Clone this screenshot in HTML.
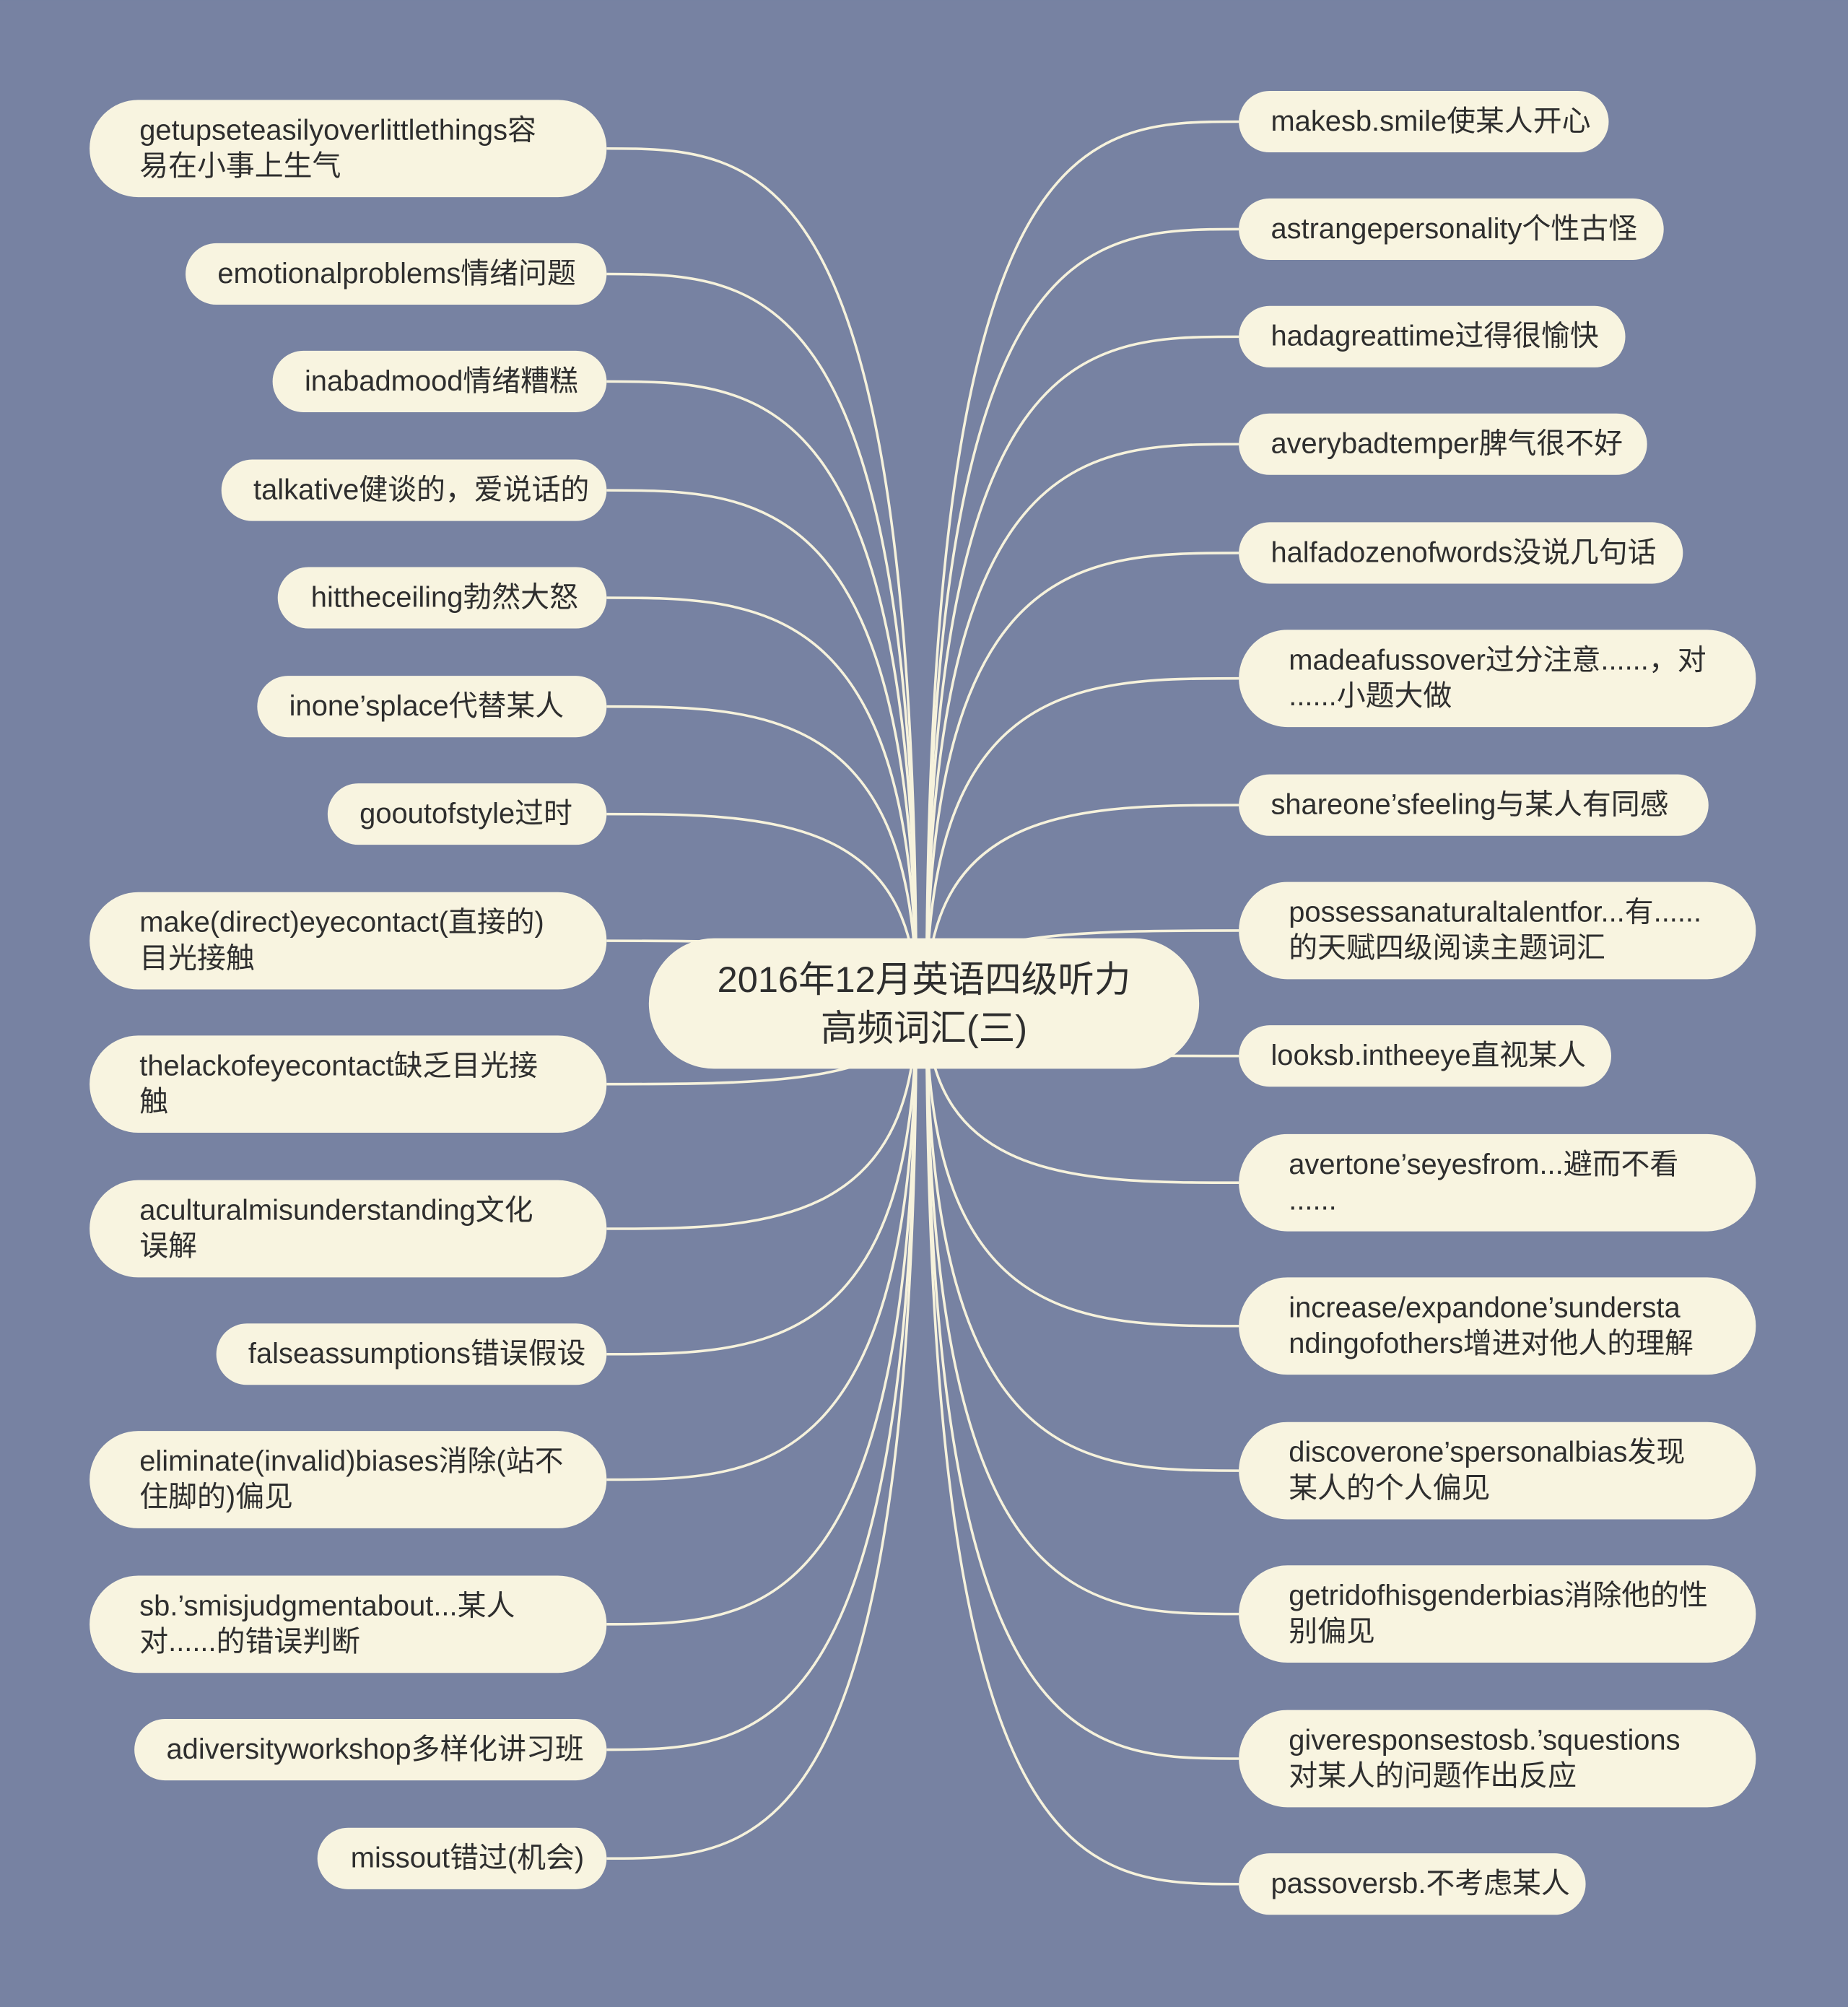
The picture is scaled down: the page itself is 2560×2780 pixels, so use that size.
<!DOCTYPE html>
<html><head><meta charset="utf-8"><style>
html,body{margin:0;padding:0;background:#7782a2;}
svg{display:block}
text{font-family:"Liberation Sans","Noto Sans CJK SC",sans-serif;fill:#2e2e2e;font-size:22.5px}
</style></head><body>
<svg width="2560" height="2780" viewBox="0 0 1444 1568" xmlns="http://www.w3.org/2000/svg">
<rect width="1444" height="1568" fill="#7782a2"/>
<g fill="none" stroke="#f6f2dc" stroke-width="2">
<path d="M716 784 C716 116 595 116 474 116"/>
<path d="M716 784 C716 214 595 214 474 214"/>
<path d="M716 784 C716 298 595 298 474 298"/>
<path d="M716 784 C716 383 595 383 474 383"/>
<path d="M716 784 C716 467 595 467 474 467"/>
<path d="M716 784 C716 552 595 552 474 552"/>
<path d="M716 784 C716 636 595 636 474 636"/>
<path d="M716 784 C716 735 595 735 474 735"/>
<path d="M716 784 C716 847 595 847 474 847"/>
<path d="M716 784 C716 960 595 960 474 960"/>
<path d="M716 784 C716 1058 595 1058 474 1058"/>
<path d="M716 784 C716 1156 595 1156 474 1156"/>
<path d="M716 784 C716 1269 595 1269 474 1269"/>
<path d="M716 784 C716 1367 595 1367 474 1367"/>
<path d="M716 784 C716 1452 595 1452 474 1452"/>
<path d="M724 784 C724 95 846 95 968 95"/>
<path d="M724 784 C724 179 846 179 968 179"/>
<path d="M724 784 C724 263 846 263 968 263"/>
<path d="M724 784 C724 347 846 347 968 347"/>
<path d="M724 784 C724 432 846 432 968 432"/>
<path d="M724 784 C724 530 846 530 968 530"/>
<path d="M724 784 C724 629 846 629 968 629"/>
<path d="M724 784 C724 727 846 727 968 727"/>
<path d="M724 784 C724 825 846 825 968 825"/>
<path d="M724 784 C724 924 846 924 968 924"/>
<path d="M724 784 C724 1036 846 1036 968 1036"/>
<path d="M724 784 C724 1149 846 1149 968 1149"/>
<path d="M724 784 C724 1261 846 1261 968 1261"/>
<path d="M724 784 C724 1374 846 1374 968 1374"/>
<path d="M724 784 C724 1472 846 1472 968 1472"/>
</g>
<g fill="#f8f4e0">
<rect x="70" y="78" width="404" height="76" rx="38"/>
<rect x="145" y="190" width="329" height="48" rx="24"/>
<rect x="213" y="274" width="261" height="48" rx="24"/>
<rect x="173" y="359" width="301" height="48" rx="24"/>
<rect x="217" y="443" width="257" height="48" rx="24"/>
<rect x="201" y="528" width="273" height="48" rx="24"/>
<rect x="256" y="612" width="218" height="48" rx="24"/>
<rect x="70" y="697" width="404" height="76" rx="38"/>
<rect x="70" y="809" width="404" height="76" rx="38"/>
<rect x="70" y="922" width="404" height="76" rx="38"/>
<rect x="169" y="1034" width="305" height="48" rx="24"/>
<rect x="70" y="1118" width="404" height="76" rx="38"/>
<rect x="70" y="1231" width="404" height="76" rx="38"/>
<rect x="105" y="1343" width="369" height="48" rx="24"/>
<rect x="248" y="1428" width="226" height="48" rx="24"/>
<rect x="968" y="71" width="289" height="48" rx="24"/>
<rect x="968" y="155" width="332" height="48" rx="24"/>
<rect x="968" y="239" width="302" height="48" rx="24"/>
<rect x="968" y="323" width="319" height="48" rx="24"/>
<rect x="968" y="408" width="347" height="48" rx="24"/>
<rect x="968" y="492" width="404" height="76" rx="38"/>
<rect x="968" y="605" width="367" height="48" rx="24"/>
<rect x="968" y="689" width="404" height="76" rx="38"/>
<rect x="968" y="801" width="291" height="48" rx="24"/>
<rect x="968" y="886" width="404" height="76" rx="38"/>
<rect x="968" y="998" width="404" height="76" rx="38"/>
<rect x="968" y="1111" width="404" height="76" rx="38"/>
<rect x="968" y="1223" width="404" height="76" rx="38"/>
<rect x="968" y="1336" width="404" height="76" rx="38"/>
<rect x="968" y="1448" width="271" height="48" rx="24"/>
<rect x="507" y="733" width="430" height="102" rx="51"/>
</g>
<g>
<text x="109" y="109">getupseteasilyoverlittlethings容</text><text x="109" y="137">易在小事上生气</text>
<text x="170" y="221">emotionalproblems情绪问题</text>
<text x="238" y="305">inabadmood情绪糟糕</text>
<text x="198" y="390">talkative健谈的，爱说话的</text>
<text x="243" y="474">hittheceiling勃然大怒</text>
<text x="226" y="559">inone’splace代替某人</text>
<text x="281" y="643">gooutofstyle过时</text>
<text x="109" y="728">make(direct)eyecontact(直接的)</text><text x="109" y="756">目光接触</text>
<text x="109" y="840">thelackofeyecontact缺乏目光接</text><text x="109" y="868">触</text>
<text x="109" y="953">aculturalmisunderstanding文化</text><text x="109" y="981">误解</text>
<text x="194" y="1065">falseassumptions错误假设</text>
<text x="109" y="1149">eliminate(invalid)biases消除(站不</text><text x="109" y="1177">住脚的)偏见</text>
<text x="109" y="1262">sb.’smisjudgmentabout...某人</text><text x="109" y="1290">对......的错误判断</text>
<text x="130" y="1374">adiversityworkshop多样化讲习班</text>
<text x="274" y="1459">missout错过(机会)</text>

<text x="993" y="102">makesb.smile使某人开心</text>
<text x="993" y="186">astrangepersonality个性古怪</text>
<text x="993" y="270">hadagreattime过得很愉快</text>
<text x="993" y="354">averybadtemper脾气很不好</text>
<text x="993" y="439">halfadozenofwords没说几句话</text>
<text x="1007" y="523">madeafussover过分注意......，对</text><text x="1007" y="551">......小题大做</text>
<text x="993" y="636">shareone’sfeeling与某人有同感</text>
<text x="1007" y="720">possessanaturaltalentfor...有......</text><text x="1007" y="748">的天赋四级阅读主题词汇</text>
<text x="993" y="832">looksb.intheeye直视某人</text>
<text x="1007" y="917">avertone’seyesfrom...避而不看</text><text x="1007" y="945">......</text>
<text x="1007" y="1029">increase/expandone’sundersta</text><text x="1007" y="1057">ndingofothers增进对他人的理解</text>
<text x="1007" y="1142">discoverone’spersonalbias发现</text><text x="1007" y="1170">某人的个人偏见</text>
<text x="1007" y="1254">getridofhisgenderbias消除他的性</text><text x="1007" y="1282">别偏见</text>
<text x="1007" y="1367">giveresponsestosb.’squestions</text><text x="1007" y="1395">对某人的问题作出反应</text>
<text x="993" y="1479">passoversb.不考虑某人</text>

<text x="722" y="775" text-anchor="middle" style="font-size:28.5px">2016年12月英语四级听力</text>
<text x="722" y="813" text-anchor="middle" style="font-size:28.5px">高频词汇(三)</text>
</g>
</svg>
</body></html>
